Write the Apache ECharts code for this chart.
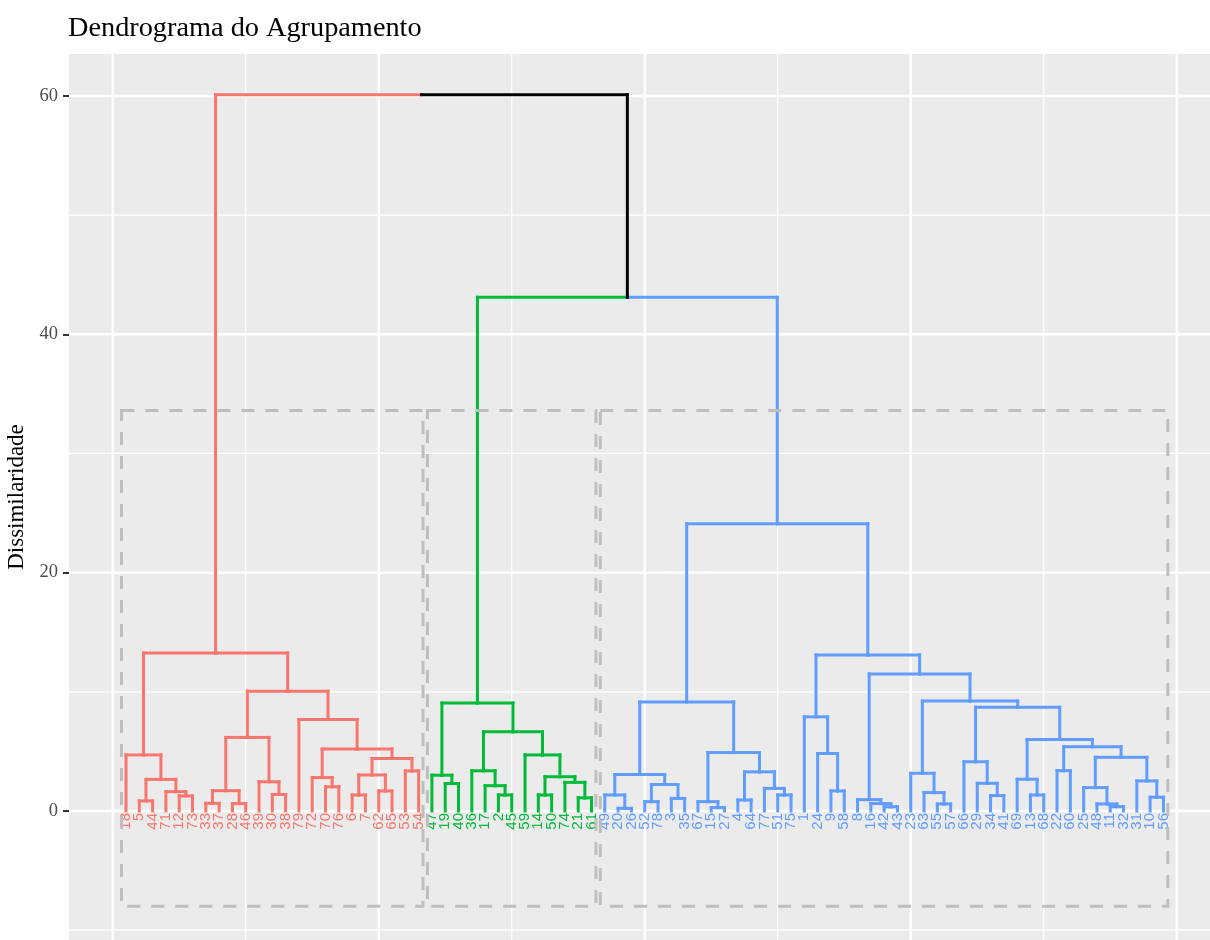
<!DOCTYPE html>
<html>
<head>
<meta charset="utf-8">
<title>Dendrograma do Agrupamento</title>
<script src="https://cdn.jsdelivr.net/npm/echarts@6/dist/echarts.min.js"></script>
<style>
  html, body { margin: 0; padding: 0; background: #ffffff; }
  #chart { width: 1210px; height: 940px; }
</style>
</head>
<body>
<div id="chart"></div>
<script>
// Leaf labels in dendrogram order (left to right)
const leafLabels = [
  '18','5','44','71','12','73','33','37','28','46','39','30','38','79','72','70','76','6','7','62','65','53','54',
  '47','19','40','36','17','2','45','59','14','50','74','21','61',
  '49','20','26','52','78','3','35','67','15','27','4','64','77','51','75','1','24','9','58','8','16','42','43',
  '23','63','55','57','66','29','34','41','69','13','68','22','60','25','48','11','32','31','10','56'
];

// Number of leaves in each of the three groups, in order
const clusterSizes = [23, 13, 43];
const clusterColors = ['#F8766D', '#00BA38', '#619CFF'];

// Merge table (hclust style): negative = leaf position, positive = earlier merge (1-based)
const mergeLeft = [
  -2, -5, -4, 1, -1, -7, -9, 6, -12, -11, 8, -16, -15, -18, -20, 14, -22, 16, 13, -14, 11, 5,
  -25, -24, -29, -28, -27, -32, -35, -34, 28, -31, 27, 24,
  -38, -37, -40, -42, 37, 36, -45, -44, -47, -50, -49, 43, 42, 40,
  -54, -53, -52, -58, -57, -56, -62, -61, -60, -66, -65, -64, -69, -68, -71, -75, -74, -73, -78, -77,
  66, 63, 62, 60, 57, 54, 51, 48, 34, 22
];
const mergeRight = [
  -3, -6, 2, 3, 4, -8, -10, 7, -13, 9, 10, -17, 12, -19, -21, 15, -23, 17, 18, 19, 20, 21,
  -26, 23, -30, 25, 26, -33, -36, 29, 30, 31, 32, 33,
  -39, 35, -41, -43, 38, 39, -46, 41, -48, -51, 44, 45, 46, 47,
  -55, 49, 50, -59, 52, 53, -63, 55, 56, -67, 58, 59, -70, 61, -72, -76, 64, 65, -79, 67,
  68, 69, 70, 71, 72, 73, 74, 75, 76, 77
];
const mergeHeight = [
  0.84, 1.26, 1.62, 2.65, 4.70, 0.64, 0.62, 1.70, 1.38, 2.45, 6.17, 2.03, 2.80, 1.34, 1.68, 3.02, 3.36, 4.40, 5.20, 7.68, 10.05, 13.25,
  2.30, 3.00, 1.34, 2.12, 3.37, 1.34, 1.10, 2.40, 2.87, 4.70, 6.64, 9.05,
  0.22, 1.34, 0.78, 1.05, 2.22, 3.06, 0.28, 0.78, 0.92, 1.34, 1.89, 3.28, 4.90, 9.15,
  1.68, 4.82, 7.90, 0.35, 0.62, 0.95, 0.59, 1.54, 3.16, 1.29, 2.32, 4.13, 1.34, 2.66, 3.38, 0.36, 0.59, 1.96, 1.15, 2.52,
  4.50, 5.39, 6.00, 8.70, 9.23, 11.50, 13.09, 24.10, 43.10, 60.10
];

// Axis ticks and grid positions
const yTickValues = [0, 20, 40, 60];
const yMinorGrid = [-10, 10, 30, 50];
const xMajorGrid = [0, 20, 40, 60, 80];
const xMinorGrid = [10, 30, 50, 70];
const rectBottom = -8;

// ---- build the tree geometry ----
const leafCluster = [];
(function () {
  let pos = 1;
  clusterSizes.forEach((s, c) => { for (let i = 0; i < s; i++) leafCluster[pos++] = c; });
})();

const nodeX = [], nodeH = [], nodeC = [];
function child(ref) {
  if (ref < 0) return { x: -ref, h: 0, c: leafCluster[-ref] };
  return { x: nodeX[ref], h: nodeH[ref], c: nodeC[ref] };
}
const segments = []; // [x1, y1, x2, y2, colourIndex]
for (let j = 0; j < mergeHeight.length; j++) {
  const a = child(mergeLeft[j]);
  const b = child(mergeRight[j]);
  const H = mergeHeight[j];
  const mid = (a.x + b.x) / 2;
  const id = j + 1;
  nodeX[id] = mid;
  nodeH[id] = H;
  nodeC[id] = (a.c === b.c) ? a.c : -1;
  segments.push([a.x, a.h, a.x, H, a.c]);
  segments.push([b.x, b.h, b.x, H, b.c]);
  segments.push([a.x, H, mid, H, a.c]);
  segments.push([mid, H, b.x, H, b.c]);
}

// Group boxes: top halfway between the heights that cut the tree into k groups
const sortedH = mergeHeight.slice().sort((p, q) => q - p);
const k = clusterSizes.length;
const rectTop = (sortedH[k - 2] + sortedH[k - 1]) / 2;
const rects = [];
(function () {
  let start = 0;
  clusterSizes.forEach((s) => {
    rects.push([start + 0.66, rectBottom, start + s + 0.33, rectTop]);
    start += s;
  });
})();

const labelData = leafLabels.map((_, i) => [i + 1, 0, i]);

const gridData = []
  .concat(xMajorGrid.map(v => [0, v, 1]))
  .concat(xMinorGrid.map(v => [0, v, 0]))
  .concat(yTickValues.map(v => [1, v, 1]))
  .concat(yMinorGrid.map(v => [1, v, 0]));

const X_MIN = -3.286, X_MAX = 82.5, Y_MIN = -10.83, Y_MAX = 63.52;

const chart = echarts.init(document.getElementById('chart'), null, { renderer: 'canvas' });

chart.setOption({
  animation: false,
  backgroundColor: '#ffffff',
  title: {
    text: 'Dendrograma do Agrupamento',
    left: 63,
    top: 10,
    textStyle: { fontFamily: 'Liberation Serif', fontSize: 28.3, fontWeight: 'normal', color: '#000000' }
  },
  grid: {
    left: 69, top: 54, width: 1141, height: 886,
    outerBoundsMode: 'none',
    containLabel: false,
    show: true, backgroundColor: '#EBEBEB', borderWidth: 0
  },
  xAxis: {
    type: 'value', min: X_MIN, max: X_MAX, show: false, splitLine: { show: false }
  },
  yAxis: {
    type: 'value', min: Y_MIN, max: Y_MAX,
    name: 'Dissimilaridade',
    nameLocation: 'middle',
    nameGap: 34,
    nameTextStyle: { fontFamily: 'Liberation Serif', fontSize: 23, color: '#000000' },
    axisLine: { show: false, onZero: false },
    axisTick: { show: true, length: 6, lineStyle: { color: '#333333', width: 2 }, customValues: yTickValues },
    axisLabel: {
      show: true, margin: 11, customValues: yTickValues,
      fontFamily: 'Liberation Serif', fontSize: 18.5, color: '#4D4D4D'
    },
    splitLine: { show: false }
  },
  series: [
    {
      // panel grid lines
      type: 'custom', silent: true, data: gridData,
      renderItem: (params, api) => {
        const dir = api.value(0), v = api.value(1), major = api.value(2);
        let p1, p2;
        if (dir === 0) { p1 = api.coord([v, Y_MIN]); p2 = api.coord([v, Y_MAX]); }
        else { p1 = api.coord([X_MIN, v]); p2 = api.coord([X_MAX, v]); }
        return {
          type: 'line',
          shape: { x1: p1[0], y1: p1[1], x2: p2[0], y2: p2[1] },
          style: { stroke: '#FFFFFF', lineWidth: major ? 2.4 : 1.2 }
        };
      }
    },
    {
      // dendrogram branches
      type: 'custom', silent: true, data: segments,
      renderItem: (params, api) => {
        const p1 = api.coord([api.value(0), api.value(1)]);
        const p2 = api.coord([api.value(2), api.value(3)]);
        const c = api.value(4);
        return {
          type: 'line',
          shape: { x1: p1[0], y1: p1[1], x2: p2[0], y2: p2[1] },
          style: { stroke: c < 0 ? '#000000' : clusterColors[c], lineWidth: 3, lineCap: 'square' }
        };
      }
    },
    {
      // leaf labels
      type: 'custom', silent: true, data: labelData,
      renderItem: (params, api) => {
        const p = api.coord([api.value(0), api.value(1)]);
        const idx = api.value(2);
        return {
          type: 'text',
          x: p[0], y: p[1] + 2,
          rotation: Math.PI / 2,
          style: {
            text: leafLabels[idx],
            fill: clusterColors[leafCluster[idx + 1]],
            font: '15px "Liberation Sans"',
            align: 'right',
            verticalAlign: 'middle'
          }
        };
      }
    },
    {
      // dashed boxes around the groups
      type: 'custom', silent: true, data: rects,
      renderItem: (params, api) => {
        const p1 = api.coord([api.value(0), api.value(3)]);
        const p2 = api.coord([api.value(2), api.value(1)]);
        return {
          type: 'rect',
          shape: { x: p1[0], y: p1[1], width: p2[0] - p1[0], height: p2[1] - p1[1] },
          style: { fill: 'none', stroke: '#BEBEBE', lineWidth: 3, lineDash: [13, 11] }
        };
      }
    }
  ]
});
</script>
</body>
</html>
